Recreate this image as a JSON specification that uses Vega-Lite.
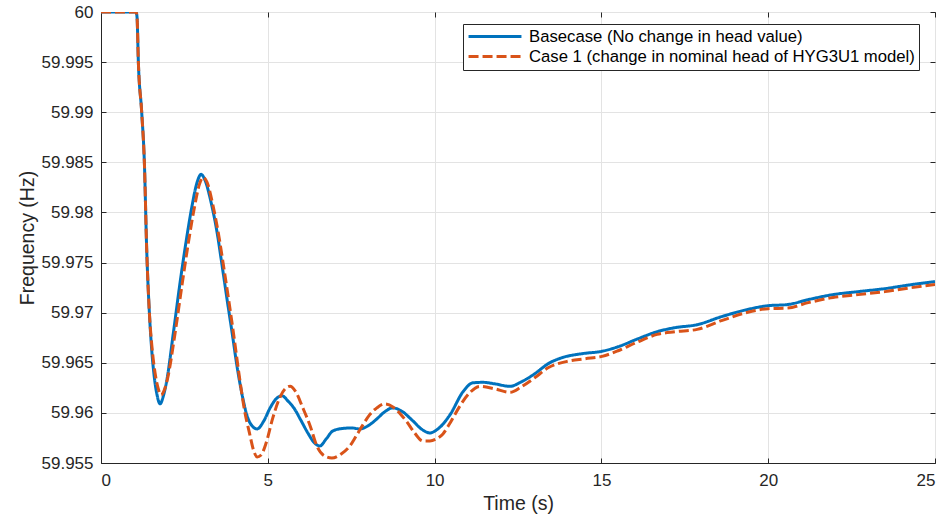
{
  "$schema": "https://vega.github.io/schema/vega-lite/v6.json",
  "width": 834,
  "height": 451,
  "autosize": "none",
  "padding": {"left": 101, "top": 12, "right": 10, "bottom": 54},
  "background": "white",
  "config": {
    "font": "Liberation Sans",
    "view": {"stroke": "#262626", "strokeWidth": 1},
    "axis": {
      "labelFont": "Liberation Sans",
      "titleFont": "Liberation Sans",
      "labelColor": "#262626",
      "titleColor": "#262626",
      "labelFontSize": 17,
      "titleFontSize": 19.5,
      "titleFontWeight": "normal",
      "domainColor": "#262626",
      "tickColor": "#262626",
      "gridColor": "#e3e3e3",
      "gridWidth": 1
    }
  },
  "data": {"values": [
    {"t":0,"f":60,"series":"Basecase (No change in head value)"},
    {"t":1.05,"f":60,"series":"Basecase (No change in head value)"},
    {"t":1.08,"f":59.9995,"series":"Basecase (No change in head value)"},
    {"t":1.12,"f":59.995,"series":"Basecase (No change in head value)"},
    {"t":1.22,"f":59.99,"series":"Basecase (No change in head value)"},
    {"t":1.3,"f":59.985,"series":"Basecase (No change in head value)"},
    {"t":1.37,"f":59.9763,"series":"Basecase (No change in head value)"},
    {"t":1.45,"f":59.97,"series":"Basecase (No change in head value)"},
    {"t":1.52,"f":59.9663,"series":"Basecase (No change in head value)"},
    {"t":1.6,"f":59.9635,"series":"Basecase (No change in head value)"},
    {"t":1.68,"f":59.9618,"series":"Basecase (No change in head value)"},
    {"t":1.77,"f":59.9609,"series":"Basecase (No change in head value)"},
    {"t":1.87,"f":59.9617,"series":"Basecase (No change in head value)"},
    {"t":1.97,"f":59.9632,"series":"Basecase (No change in head value)"},
    {"t":2.17,"f":59.968,"series":"Basecase (No change in head value)"},
    {"t":2.37,"f":59.973,"series":"Basecase (No change in head value)"},
    {"t":2.57,"f":59.9775,"series":"Basecase (No change in head value)"},
    {"t":2.72,"f":59.9805,"series":"Basecase (No change in head value)"},
    {"t":2.88,"f":59.983,"series":"Basecase (No change in head value)"},
    {"t":3.0,"f":59.9838,"series":"Basecase (No change in head value)"},
    {"t":3.12,"f":59.9832,"series":"Basecase (No change in head value)"},
    {"t":3.3,"f":59.981,"series":"Basecase (No change in head value)"},
    {"t":3.48,"f":59.978,"series":"Basecase (No change in head value)"},
    {"t":3.63,"f":59.9747,"series":"Basecase (No change in head value)"},
    {"t":3.78,"f":59.9713,"series":"Basecase (No change in head value)"},
    {"t":3.93,"f":59.968,"series":"Basecase (No change in head value)"},
    {"t":4.08,"f":59.9646,"series":"Basecase (No change in head value)"},
    {"t":4.23,"f":59.9618,"series":"Basecase (No change in head value)"},
    {"t":4.38,"f":59.9597,"series":"Basecase (No change in head value)"},
    {"t":4.53,"f":59.9587,"series":"Basecase (No change in head value)"},
    {"t":4.68,"f":59.9584,"series":"Basecase (No change in head value)"},
    {"t":4.88,"f":59.9592,"series":"Basecase (No change in head value)"},
    {"t":5.07,"f":59.9605,"series":"Basecase (No change in head value)"},
    {"t":5.25,"f":59.9614,"series":"Basecase (No change in head value)"},
    {"t":5.43,"f":59.9617,"series":"Basecase (No change in head value)"},
    {"t":5.6,"f":59.9612,"series":"Basecase (No change in head value)"},
    {"t":5.8,"f":59.9604,"series":"Basecase (No change in head value)"},
    {"t":5.97,"f":59.9594,"series":"Basecase (No change in head value)"},
    {"t":6.2,"f":59.958,"series":"Basecase (No change in head value)"},
    {"t":6.4,"f":59.957,"series":"Basecase (No change in head value)"},
    {"t":6.56,"f":59.9567,"series":"Basecase (No change in head value)"},
    {"t":6.75,"f":59.9574,"series":"Basecase (No change in head value)"},
    {"t":6.95,"f":59.9582,"series":"Basecase (No change in head value)"},
    {"t":7.25,"f":59.95845,"series":"Basecase (No change in head value)"},
    {"t":7.5,"f":59.9585,"series":"Basecase (No change in head value)"},
    {"t":7.76,"f":59.9584,"series":"Basecase (No change in head value)"},
    {"t":8.0,"f":59.9587,"series":"Basecase (No change in head value)"},
    {"t":8.27,"f":59.9594,"series":"Basecase (No change in head value)"},
    {"t":8.5,"f":59.9601,"series":"Basecase (No change in head value)"},
    {"t":8.75,"f":59.9605,"series":"Basecase (No change in head value)"},
    {"t":9.0,"f":59.9602,"series":"Basecase (No change in head value)"},
    {"t":9.35,"f":59.9592,"series":"Basecase (No change in head value)"},
    {"t":9.6,"f":59.9584,"series":"Basecase (No change in head value)"},
    {"t":9.86,"f":59.958,"series":"Basecase (No change in head value)"},
    {"t":10.1,"f":59.9584,"series":"Basecase (No change in head value)"},
    {"t":10.46,"f":59.9598,"series":"Basecase (No change in head value)"},
    {"t":10.85,"f":59.9621,"series":"Basecase (No change in head value)"},
    {"t":11.15,"f":59.963,"series":"Basecase (No change in head value)"},
    {"t":11.45,"f":59.96305,"series":"Basecase (No change in head value)"},
    {"t":11.8,"f":59.9629,"series":"Basecase (No change in head value)"},
    {"t":12.26,"f":59.96265,"series":"Basecase (No change in head value)"},
    {"t":12.6,"f":59.9631,"series":"Basecase (No change in head value)"},
    {"t":13.0,"f":59.9639,"series":"Basecase (No change in head value)"},
    {"t":13.4,"f":59.9649,"series":"Basecase (No change in head value)"},
    {"t":13.85,"f":59.96554,"series":"Basecase (No change in head value)"},
    {"t":14.4,"f":59.9659,"series":"Basecase (No change in head value)"},
    {"t":15.02,"f":59.96615,"series":"Basecase (No change in head value)"},
    {"t":15.5,"f":59.9666,"series":"Basecase (No change in head value)"},
    {"t":16.1,"f":59.9674,"series":"Basecase (No change in head value)"},
    {"t":16.67,"f":59.9681,"series":"Basecase (No change in head value)"},
    {"t":17.2,"f":59.9685,"series":"Basecase (No change in head value)"},
    {"t":17.87,"f":59.9688,"series":"Basecase (No change in head value)"},
    {"t":18.6,"f":59.9696,"series":"Basecase (No change in head value)"},
    {"t":19.36,"f":59.9703,"series":"Basecase (No change in head value)"},
    {"t":20.0,"f":59.9707,"series":"Basecase (No change in head value)"},
    {"t":20.56,"f":59.9708,"series":"Basecase (No change in head value)"},
    {"t":21.2,"f":59.9713,"series":"Basecase (No change in head value)"},
    {"t":21.94,"f":59.9718,"series":"Basecase (No change in head value)"},
    {"t":22.7,"f":59.9721,"series":"Basecase (No change in head value)"},
    {"t":23.5,"f":59.9724,"series":"Basecase (No change in head value)"},
    {"t":24.3,"f":59.9728,"series":"Basecase (No change in head value)"},
    {"t":25.0,"f":59.9731,"series":"Basecase (No change in head value)"},
    {"t":0,"f":60,"series":"Case 1 (change in nominal head of HYG3U1 model)"},
    {"t":1.05,"f":60,"series":"Case 1 (change in nominal head of HYG3U1 model)"},
    {"t":1.08,"f":59.9995,"series":"Case 1 (change in nominal head of HYG3U1 model)"},
    {"t":1.12,"f":59.995,"series":"Case 1 (change in nominal head of HYG3U1 model)"},
    {"t":1.22,"f":59.99,"series":"Case 1 (change in nominal head of HYG3U1 model)"},
    {"t":1.3,"f":59.985,"series":"Case 1 (change in nominal head of HYG3U1 model)"},
    {"t":1.37,"f":59.9763,"series":"Case 1 (change in nominal head of HYG3U1 model)"},
    {"t":1.45,"f":59.97,"series":"Case 1 (change in nominal head of HYG3U1 model)"},
    {"t":1.53,"f":59.9665,"series":"Case 1 (change in nominal head of HYG3U1 model)"},
    {"t":1.62,"f":59.964,"series":"Case 1 (change in nominal head of HYG3U1 model)"},
    {"t":1.71,"f":59.9625,"series":"Case 1 (change in nominal head of HYG3U1 model)"},
    {"t":1.8,"f":59.9618,"series":"Case 1 (change in nominal head of HYG3U1 model)"},
    {"t":1.9,"f":59.9623,"series":"Case 1 (change in nominal head of HYG3U1 model)"},
    {"t":2.0,"f":59.9635,"series":"Case 1 (change in nominal head of HYG3U1 model)"},
    {"t":2.2,"f":59.9675,"series":"Case 1 (change in nominal head of HYG3U1 model)"},
    {"t":2.43,"f":59.9728,"series":"Case 1 (change in nominal head of HYG3U1 model)"},
    {"t":2.62,"f":59.977,"series":"Case 1 (change in nominal head of HYG3U1 model)"},
    {"t":2.8,"f":59.9805,"series":"Case 1 (change in nominal head of HYG3U1 model)"},
    {"t":2.95,"f":59.9828,"series":"Case 1 (change in nominal head of HYG3U1 model)"},
    {"t":3.06,"f":59.9835,"series":"Case 1 (change in nominal head of HYG3U1 model)"},
    {"t":3.18,"f":59.983,"series":"Case 1 (change in nominal head of HYG3U1 model)"},
    {"t":3.35,"f":59.9808,"series":"Case 1 (change in nominal head of HYG3U1 model)"},
    {"t":3.54,"f":59.9775,"series":"Case 1 (change in nominal head of HYG3U1 model)"},
    {"t":3.69,"f":59.9743,"series":"Case 1 (change in nominal head of HYG3U1 model)"},
    {"t":3.84,"f":59.971,"series":"Case 1 (change in nominal head of HYG3U1 model)"},
    {"t":3.99,"f":59.9675,"series":"Case 1 (change in nominal head of HYG3U1 model)"},
    {"t":4.14,"f":59.9638,"series":"Case 1 (change in nominal head of HYG3U1 model)"},
    {"t":4.3,"f":59.9603,"series":"Case 1 (change in nominal head of HYG3U1 model)"},
    {"t":4.45,"f":59.958,"series":"Case 1 (change in nominal head of HYG3U1 model)"},
    {"t":4.58,"f":59.9562,"series":"Case 1 (change in nominal head of HYG3U1 model)"},
    {"t":4.68,"f":59.9556,"series":"Case 1 (change in nominal head of HYG3U1 model)"},
    {"t":4.8,"f":59.9558,"series":"Case 1 (change in nominal head of HYG3U1 model)"},
    {"t":4.95,"f":59.957,"series":"Case 1 (change in nominal head of HYG3U1 model)"},
    {"t":5.15,"f":59.9595,"series":"Case 1 (change in nominal head of HYG3U1 model)"},
    {"t":5.37,"f":59.9616,"series":"Case 1 (change in nominal head of HYG3U1 model)"},
    {"t":5.52,"f":59.9624,"series":"Case 1 (change in nominal head of HYG3U1 model)"},
    {"t":5.67,"f":59.96265,"series":"Case 1 (change in nominal head of HYG3U1 model)"},
    {"t":5.82,"f":59.9622,"series":"Case 1 (change in nominal head of HYG3U1 model)"},
    {"t":6.05,"f":59.9605,"series":"Case 1 (change in nominal head of HYG3U1 model)"},
    {"t":6.27,"f":59.9587,"series":"Case 1 (change in nominal head of HYG3U1 model)"},
    {"t":6.47,"f":59.9567,"series":"Case 1 (change in nominal head of HYG3U1 model)"},
    {"t":6.7,"f":59.9557,"series":"Case 1 (change in nominal head of HYG3U1 model)"},
    {"t":6.92,"f":59.9555,"series":"Case 1 (change in nominal head of HYG3U1 model)"},
    {"t":7.2,"f":59.9559,"series":"Case 1 (change in nominal head of HYG3U1 model)"},
    {"t":7.46,"f":59.9567,"series":"Case 1 (change in nominal head of HYG3U1 model)"},
    {"t":7.65,"f":59.9577,"series":"Case 1 (change in nominal head of HYG3U1 model)"},
    {"t":7.85,"f":59.9588,"series":"Case 1 (change in nominal head of HYG3U1 model)"},
    {"t":8.05,"f":59.9598,"series":"Case 1 (change in nominal head of HYG3U1 model)"},
    {"t":8.27,"f":59.9605,"series":"Case 1 (change in nominal head of HYG3U1 model)"},
    {"t":8.51,"f":59.9609,"series":"Case 1 (change in nominal head of HYG3U1 model)"},
    {"t":8.75,"f":59.9606,"series":"Case 1 (change in nominal head of HYG3U1 model)"},
    {"t":9.0,"f":59.9598,"series":"Case 1 (change in nominal head of HYG3U1 model)"},
    {"t":9.17,"f":59.9591,"series":"Case 1 (change in nominal head of HYG3U1 model)"},
    {"t":9.4,"f":59.958,"series":"Case 1 (change in nominal head of HYG3U1 model)"},
    {"t":9.65,"f":59.9572,"series":"Case 1 (change in nominal head of HYG3U1 model)"},
    {"t":9.86,"f":59.9572,"series":"Case 1 (change in nominal head of HYG3U1 model)"},
    {"t":10.05,"f":59.9574,"series":"Case 1 (change in nominal head of HYG3U1 model)"},
    {"t":10.25,"f":59.9579,"series":"Case 1 (change in nominal head of HYG3U1 model)"},
    {"t":10.5,"f":59.9592,"series":"Case 1 (change in nominal head of HYG3U1 model)"},
    {"t":10.76,"f":59.9607,"series":"Case 1 (change in nominal head of HYG3U1 model)"},
    {"t":11.05,"f":59.962,"series":"Case 1 (change in nominal head of HYG3U1 model)"},
    {"t":11.36,"f":59.96265,"series":"Case 1 (change in nominal head of HYG3U1 model)"},
    {"t":11.8,"f":59.9624,"series":"Case 1 (change in nominal head of HYG3U1 model)"},
    {"t":12.26,"f":59.96205,"series":"Case 1 (change in nominal head of HYG3U1 model)"},
    {"t":12.6,"f":59.9626,"series":"Case 1 (change in nominal head of HYG3U1 model)"},
    {"t":13.0,"f":59.9635,"series":"Case 1 (change in nominal head of HYG3U1 model)"},
    {"t":13.4,"f":59.9645,"series":"Case 1 (change in nominal head of HYG3U1 model)"},
    {"t":13.97,"f":59.96514,"series":"Case 1 (change in nominal head of HYG3U1 model)"},
    {"t":14.5,"f":59.9654,"series":"Case 1 (change in nominal head of HYG3U1 model)"},
    {"t":15.02,"f":59.96564,"series":"Case 1 (change in nominal head of HYG3U1 model)"},
    {"t":15.5,"f":59.9662,"series":"Case 1 (change in nominal head of HYG3U1 model)"},
    {"t":16.1,"f":59.9671,"series":"Case 1 (change in nominal head of HYG3U1 model)"},
    {"t":16.67,"f":59.96783,"series":"Case 1 (change in nominal head of HYG3U1 model)"},
    {"t":17.2,"f":59.9681,"series":"Case 1 (change in nominal head of HYG3U1 model)"},
    {"t":17.87,"f":59.96833,"series":"Case 1 (change in nominal head of HYG3U1 model)"},
    {"t":18.6,"f":59.9692,"series":"Case 1 (change in nominal head of HYG3U1 model)"},
    {"t":19.36,"f":59.97002,"series":"Case 1 (change in nominal head of HYG3U1 model)"},
    {"t":20.0,"f":59.9704,"series":"Case 1 (change in nominal head of HYG3U1 model)"},
    {"t":20.56,"f":59.97045,"series":"Case 1 (change in nominal head of HYG3U1 model)"},
    {"t":21.2,"f":59.971,"series":"Case 1 (change in nominal head of HYG3U1 model)"},
    {"t":21.94,"f":59.97151,"series":"Case 1 (change in nominal head of HYG3U1 model)"},
    {"t":22.7,"f":59.9718,"series":"Case 1 (change in nominal head of HYG3U1 model)"},
    {"t":23.5,"f":59.9721,"series":"Case 1 (change in nominal head of HYG3U1 model)"},
    {"t":24.3,"f":59.9725,"series":"Case 1 (change in nominal head of HYG3U1 model)"},
    {"t":25.0,"f":59.9728,"series":"Case 1 (change in nominal head of HYG3U1 model)"}
  ]},
  "layer": [
    {
      "mark": {"type": "line", "strokeWidth": 3, "interpolate": "monotone", "clip": true},
      "encoding": {
        "x": {"field": "t", "type": "quantitative",
          "scale": {"domain": [0, 25], "nice": false, "zero": false},
          "axis": {"title": "Time (s)", "values": [0,5,10,15,20,25], "tickSize": -5, "labelPadding": 14, "titlePadding": 6, "grid": true}},
        "y": {"field": "f", "type": "quantitative",
          "scale": {"domain": [59.955, 60], "nice": false, "zero": false},
          "axis": {"title": "Frequency (Hz)", "values": [59.955,59.96,59.965,59.97,59.975,59.98,59.985,59.99,59.995,60], "format": ".3~f", "tickSize": -5, "labelPadding": 13, "titlePadding": 4, "grid": true}},
        "color": {"field": "series", "type": "nominal",
          "scale": {"domain": ["Basecase (No change in head value)", "Case 1 (change in nominal head of HYG3U1 model)"], "range": ["#0072BD", "#D95319"]},
          "legend": {"title": null, "orient": "none", "legendX": 362, "legendY": 12,
            "symbolType": "stroke", "symbolSize": 2800, "symbolStrokeWidth": 3, "clipHeight": 17,
            "labelFont": "Liberation Sans", "labelFontSize": 16.7, "labelColor": "#000000", "labelLimit": 700,
            "strokeColor": "#262626", "fillColor": "white", "padding": 4, "rowPadding": 2, "labelOffset": 6}},
        "strokeDash": {"field": "series", "type": "nominal",
          "scale": {"domain": ["Basecase (No change in head value)", "Case 1 (change in nominal head of HYG3U1 model)"], "range": [[1, 0], [10, 4]]},
          "legend": null}
      }
    },
    {
      "mark": {"type": "line", "opacity": 0},
      "encoding": {
        "x": {"field": "t", "type": "quantitative", "axis": {"orient": "top", "title": null, "labels": false, "values": [0,5,10,15,20,25], "tickSize": -5, "grid": false, "domain": false}},
        "y": {"field": "f", "type": "quantitative", "axis": {"orient": "right", "title": null, "labels": false, "values": [59.955,59.96,59.965,59.97,59.975,59.98,59.985,59.99,59.995,60], "tickSize": -5, "grid": false, "domain": false}},
        "detail": {"field": "series"}
      }
    }
  ],
  "resolve": {"axis": {"x": "independent", "y": "independent"}}
}
